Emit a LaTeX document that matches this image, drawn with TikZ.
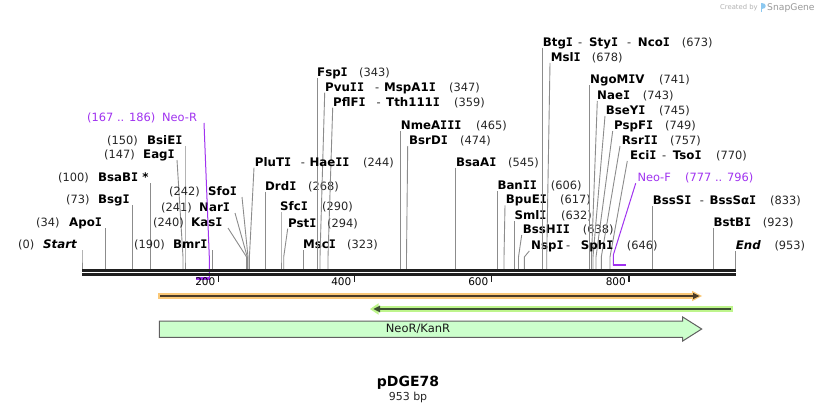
\documentclass[tikz,border=0pt]{standalone}
\usepackage{fontspec}
\setmainfont{DejaVu Sans}
\newfontfamily\monoIfont{DejaVu Sans Mono}
\newcommand\sI{{\monoIfont I}}
\definecolor{cutgray}{RGB}{140,140,140}
\definecolor{prim}{RGB}{160,50,240}
\definecolor{orband}{RGB}{250,200,120}
\definecolor{ordark}{RGB}{75,60,40}
\definecolor{grband}{RGB}{190,245,140}
\definecolor{grdark}{RGB}{60,80,50}
\definecolor{featfill}{RGB}{204,255,204}
\definecolor{featline}{RGB}{96,96,96}
\definecolor{logoblue}{RGB}{140,200,240}
\tikzset{
  nm/.style={font=\fontsize{11.8}{14}\selectfont\bfseries, inner sep=0pt, anchor=base west},
  num/.style={font=\fontsize{11.4}{14}\selectfont, inner sep=0pt, anchor=base west, text=black!85},
  prm/.style={font=\fontsize{11.4}{14}\selectfont, inner sep=0pt, anchor=base west, text=prim},
  cutline/.style={draw=cutgray, line width=0.9pt},
  primline/.style={draw=prim, line width=1pt},
  primbar/.style={draw=prim, line width=2.2pt},
  backbone/.style={draw=black!88, line width=2.3pt},
  ticklab/.style={font=\fontsize{10.5}{12}\selectfont, inner sep=0pt, anchor=east},
}
\newcommand\enzlab[8]{%
  \node[nm] (#1-n) at (#4,#2+4.5) {#3};
  \node[num] (#1-p) at (#6,#2+4.5) {#5};
  \coordinate (#1-a) at (#7,#2+6);
  \coordinate (#1-b) at (#8,257);
  \coordinate (#1-s) at (#8,269);
  \draw[cutline] (#1-a) -- (#1-b) -- (#1-s);
}
\begin{document}
\begin{tikzpicture}[x=1pt,y=-1pt]
\path[use as bounding box, fill=white] (0,0) rectangle (818,414);

% enzyme labels
\enzlab{start}{244}{\itshape Start}{43}{(0)}{18}{82}{82}
\enzlab{apoi}{222}{Apo\sI}{69}{(34)}{36}{105.3}{105.3}
\enzlab{bsgi}{199}{Bsg\sI}{98}{(73)}{66}{132.5}{132.5}
\enzlab{bsabi}{177}{BsaB\sI\ *}{98}{(100)}{58}{150.7}{150.7}
\enzlab{eagi}{154}{Eag\sI}{143}{(147)}{104}{177}{183}
\enzlab{bsiei}{140}{BsiE\sI}{147}{(150)}{107}{185}{185}
\enzlab{bmri}{244}{Bmr\sI}{173}{(190)}{134}{212.3}{212.3}
\enzlab{kasi}{222}{Kas\sI}{191}{(240)}{153}{228}{246.6}
\enzlab{nari}{207}{Nar\sI}{199}{(241)}{161}{235}{247.3}
\enzlab{sfoi}{191}{Sfo\sI}{208}{(242)}{169}{242}{248}
\enzlab{pluti}{161.7}{PluT\sI}{254.7}{(244)}{363}{254}{249.4}
\enzlab{drdi}{185.7}{Drd\sI}{265}{(268)}{308}{265.8}{265.8}
\enzlab{sfci}{206}{Sfc\sI}{280}{(290)}{322}{281}{281}
\enzlab{psti}{222.7}{Pst\sI}{288}{(294)}{327}{287.7}{283.7}
\enzlab{msci}{244}{Msc\sI}{303}{(323)}{347}{303.6}{303.6}
\enzlab{fspi}{72}{Fsp\sI}{317}{(343)}{359}{317.3}{317.3}
\enzlab{pvuii}{86.7}{Pvu\sI\sI}{325}{(347)}{449}{324.7}{320}
\enzlab{pflfi}{101.7}{PflF\sI}{333}{(359)}{454}{332.7}{328}
\enzlab{nmeaiii}{125}{NmeA\sI\sI\sI}{400.7}{(465)}{476}{400.9}{400.9}
\enzlab{bsrdi}{140}{BsrD\sI}{409}{(474)}{460}{407.7}{406.5}
\enzlab{bsaai}{161.7}{BsaA\sI}{456}{(545)}{508}{455.5}{455.5}
\enzlab{banii}{185}{Ban\sI\sI}{497.3}{(606)}{550.7}{497.5}{497.5}
\enzlab{bpuei}{199.3}{BpuE\sI}{505.7}{(617)}{560}{505}{504}
\enzlab{smli}{215}{Sml\sI}{514.3}{(632)}{561}{514.5}{514.5}
\enzlab{bsshii}{229}{BssH\sI\sI}{522.7}{(638)}{582.7}{521.7}{518.5}
\enzlab{nspi}{245}{Nsp\sI}{531}{(646)}{626.7}{529.3}{524.3}
\enzlab{btgi}{41.7}{Btg\sI}{542.7}{(673)}{681.7}{542.3}{542.3}
\enzlab{msli}{57}{Msl\sI}{550.7}{(678)}{591.7}{550}{546.7}
\enzlab{ngomiv}{79.3}{NgoM\sI V}{590}{(741)}{659}{589.5}{589.5}
\enzlab{naei}{95}{Nae\sI}{597}{(743)}{642.7}{597.3}{591.5}
\enzlab{bseyi}{110}{BseY\sI}{605.7}{(745)}{659}{605}{593}
\enzlab{pspfi}{125}{PspF\sI}{614}{(749)}{665}{612.7}{596}
\enzlab{rsrii}{140}{Rsr\sI\sI}{621.7}{(757)}{670}{620}{601.3}
\enzlab{ecii}{155}{Eci\sI}{630}{(770)}{716}{627.3}{610}
\enzlab{bsssi}{200}{BssS\sI}{652.7}{(833)}{770}{652.7}{652.7}
\enzlab{bstbi}{221.7}{BstB\sI}{713.3}{(923)}{762.7}{713.3}{713.3}
\enzlab{endsite}{245}{\itshape End}{735.7}{(953)}{774.3}{735.7}{735.7}

% second parts of combined names
\node[num] (pluti-h) at (300.7,166.2) {-};
\node[nm] (pluti-n2) at (309.3,166.2) {Hae\sI\sI};
\node[num] (pvuii-h) at (375,91.2) {-};
\node[nm] (pvuii-n2) at (384,91.2) {MspA1\sI};
\node[num] (pflfi-h) at (376.3,106.2) {-};
\node[nm] (pflfi-n2) at (386,106.2) {Tth111\sI};
\node[num] (btgi-h) at (578,46.2) {-};
\node[nm] (btgi-n2) at (589,46.2) {Sty\sI};
\node[num] (btgi-h2) at (627,46.2) {-};
\node[nm] (btgi-n3) at (637.7,46.2) {Nco\sI};
\node[num] (ecii-h) at (662,159.5) {-};
\node[nm] (ecii-n2) at (672.7,159.5) {Tso\sI};
\node[num] (nspi-h) at (566,249.5) {-};
\node[nm] (nspi-n2) at (580.7,249.5) {Sph\sI};
\node[num] (bsssi-h) at (699.7,204.5) {-};
\node[nm] (bsssi-n2) at (709.3,204.5) {BssSα\sI};

% primers
\node[prm] (neor-p) at (87,121.2) {(167 .. 186)};
\node[prm] (neor-n) at (162,121.2) {Neo-R};
\coordinate (neor-a) at (204,123);
\coordinate (neor-b) at (209.3,257);
\coordinate (neor-s) at (209.3,278.5);
\coordinate (neor-e) at (196,278.5);
\draw[primline] (neor-a) -- (neor-b) -- (neor-s);
\draw[primbar] (neor-e) -- ([xshift=0.8pt]neor-s);

\node[prm] (neof-n) at (637.3,181.8) {Neo-F};
\node[prm] (neof-p) at (685,181.8) {(777 .. 796)};
\coordinate (neof-a) at (635.7,183.3);
\coordinate (neof-b) at (613.3,255);
\coordinate (neof-s) at (613.3,265.3);
\coordinate (neof-e) at (626,265.3);
\draw[primline] (neof-a) -- (neof-b) -- (neof-s);
\draw[primbar] ([xshift=-0.6pt]neof-s) -- (neof-e);

% backbone
\coordinate (bbL1) at (82,270.5);
\coordinate (bbR1) at (736,270.5);
\coordinate (bbL2) at (82,274.6);
\coordinate (bbR2) at (736,274.6);
\draw[backbone] (bbL1) -- (bbR1);
\draw[backbone] (bbL2) -- (bbR2);

% ticks
\foreach \x/\l in {218.5/200, 354.5/400, 491.5/600, 629/800}{
  \draw[line width=1.8pt, black!88] (\x,275.5) -- (\x,281.8);
  \node[ticklab] (tick\l) at (\x-3,282) {\l};
}

% orange feature band (rightward)
\fill[orband] (158,293.3) rectangle (694,298.7);
\fill[orband] (692,290.8) -- (702,296) -- (692,301.2) -- cycle;
\draw[ordark, line width=2pt] (160,296) -- (694,296);
\fill[ordark] (693,292.8) -- (699.5,296) -- (693,299.2) -- cycle;

% green feature band (leftward)
\fill[grband] (376,306.3) rectangle (733,311.7);
\fill[grband] (378.5,303.3) -- (370,309) -- (378.5,314.7) -- cycle;
\draw[grdark, line width=2pt] (378,309) -- (731,309);
\fill[grdark] (380,305.6) -- (373.5,309) -- (380,312.4) -- cycle;

% NeoR/KanR feature
\draw[featline, fill=featfill, line width=1pt]
  (159.3,321) -- (682.7,321) -- (682.7,317) -- (701.7,329) -- (682.7,341)
  -- (682.7,337.3) -- (159.3,337.3) -- cycle;
\node[font=\fontsize{11.5}{13}\selectfont, text=black!90, inner sep=0pt] (neokan) at (418,329) {NeoR/KanR};

% title
\node[font=\fontsize{14}{16}\selectfont\bfseries, inner sep=0pt] (title) at (408,383) {pDGE78};
\node[font=\fontsize{11}{13}\selectfont, text=black!85, inner sep=0pt] (sizelab) at (408,397.5) {953 bp};

% created by
\node[font=\fontsize{6.8}{8}\selectfont, text=black!30, anchor=base west, inner sep=0pt] (createdby) at (720,10) {Created by};
\fill[logoblue] (760.5,3) rectangle (762.3,12.5);
\fill[logoblue] (762.3,3) .. controls (766.5,3) and (766.5,8.8) .. (762.3,8.8) -- cycle;
\node[font=\fontsize{9.2}{11}\selectfont, text=black!40, anchor=base west, inner sep=0pt] (snapgene) at (767,10.5) {SnapGene};
\end{tikzpicture}
\end{document}
